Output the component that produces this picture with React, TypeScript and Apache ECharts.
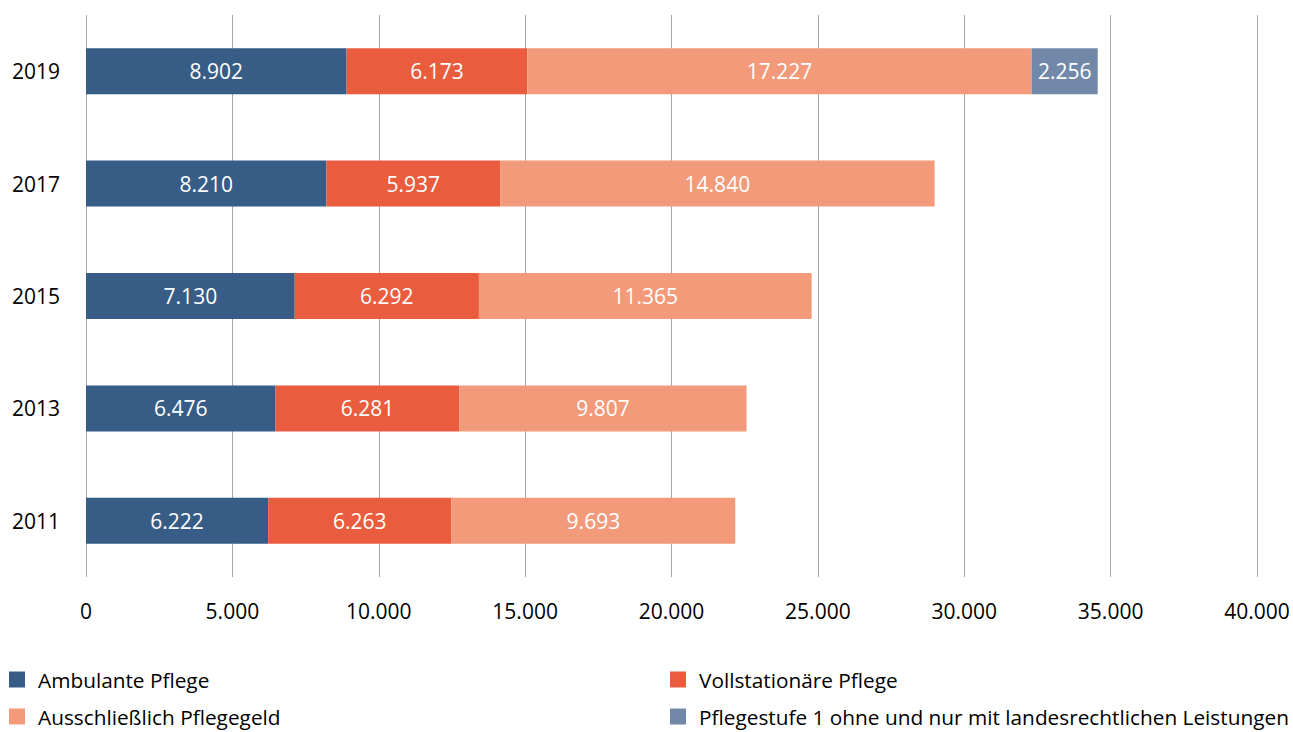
import React, { useEffect, useRef } from "react";
import * as echarts from "echarts";

const years = ["2011", "2013", "2015", "2017", "2019"];
const ambulant = [6222, 6476, 7130, 8210, 8902];
const vollstationaer = [6263, 6281, 6292, 5937, 6173];
const pflegegeld = [9693, 9807, 11365, 14840, 17227];
const pflegestufe1 = [null, null, null, null, 2256];
const seriesNames = [
  "Ambulante Pflege",
  "Vollstationäre Pflege",
  "Ausschließlich Pflegegeld",
  "Pflegestufe 1 ohne und nur mit landesrechtlichen Leistungen",
];
const colors = ["#375C86", "#E95D3E", "#F29A7A", "#7188A8"];

const fmt = (v: number) => String(Math.round(v)).replace(/\B(?=(\d{3})+(?!\d))/g, ".");
const FONT = "'Open Sans', sans-serif";

const legendPos = [
  { left: 9, top: 669, pad: 8 },
  { left: 670, top: 669, pad: 8 },
  { left: 9, top: 706, pad: 8 },
  { left: 670, top: 706, pad: 8 },
];

export default function App() {
  const ref = useRef<HTMLDivElement>(null);
  useEffect(() => {
    if (!ref.current) return;
    const chart = echarts.init(ref.current, null, { renderer: "svg" });
    const datas = [ambulant, vollstationaer, pflegegeld, pflegestufe1];
    chart.setOption({
      animation: false,
      textStyle: { fontFamily: FONT },
      grid: { left: 86, right: 36, top: 15, bottom: 155, containLabel: false },
      xAxis: {
        type: "value",
        min: 0,
        max: 40000,
        interval: 5000,
        axisLine: { show: false },
        axisTick: { show: false },
        splitLine: { show: true, lineStyle: { color: "#A6A6A6", width: 1 } },
        axisLabel: {
          color: "#000",
          fontSize: 21,
          fontFamily: FONT,
          margin: 23,
          formatter: (v: number) => fmt(v),
        },
      },
      yAxis: {
        type: "category",
        data: years,
        axisLine: { show: false },
        axisTick: { show: false },
        axisLabel: { color: "#000", fontSize: 21, fontFamily: FONT, margin: 26 },
      },
      legend: seriesNames.map((n, i) => ({
        data: [n],
        left: legendPos[i].left,
        top: legendPos[i].top,
        padding: 0,
        itemWidth: 16,
        itemHeight: 16,
        icon: "rect",
        textStyle: { color: "#000", fontSize: 20.8, fontFamily: FONT, padding: [0, 0, 0, legendPos[i].pad] },
      })),
      series: datas.map((d, i) => ({
        name: seriesNames[i],
        type: "bar",
        stack: "total",
        data: d,
        barWidth: 46,
        itemStyle: { color: colors[i] },
        label: {
          show: true,
          position: "inside",
          color: "#fff",
          fontSize: 21,
          fontFamily: FONT,
          formatter: (p: any) => fmt(p.value),
        },
      })),
    });
    return () => chart.dispose();
  }, []);
  return <div ref={ref} style={{ width: 1293, height: 732, position: "absolute", left: 0, top: 0 }} />;
}
